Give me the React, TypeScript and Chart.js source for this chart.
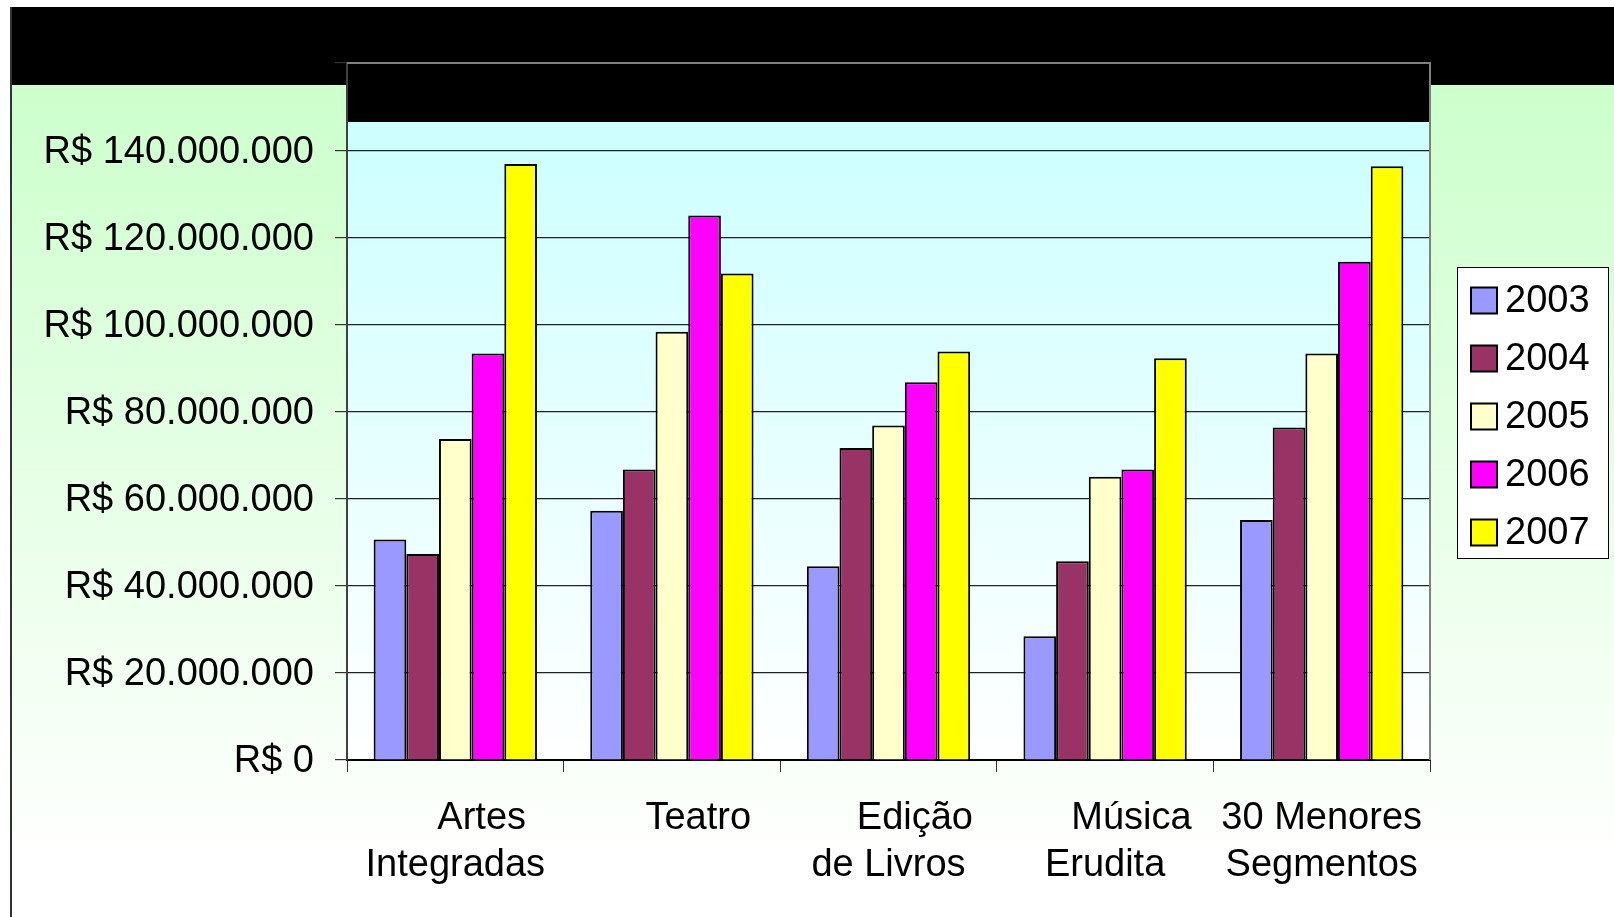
import React, { useEffect, useRef } from 'react';
import { Chart, registerables } from 'chart.js';

Chart.register(...registerables);

const categories: string[][] = [
  ['Artes', 'Integradas'],
  ['Teatro'],
  ['Edição', 'de Livros'],
  ['Música', 'Erudita'],
  ['30 Menores', 'Segmentos'],
];
const years = ['2003', '2004', '2005', '2006', '2007'];
const values2003 = [50600000, 57200000, 44500000, 28400000, 55100000];
const values2004 = [47300000, 66700000, 71600000, 45600000, 76300000];
const values2005 = [73700000, 98300000, 76800000, 65000000, 93300000];
const values2006 = [93300000, 125000000, 86700000, 66700000, 114400000];
const values2007 = [136800000, 111700000, 93800000, 92200000, 136300000];
const seriesColors = ['#9999ff', '#993366', '#ffffcc', '#ff00ff', '#ffff00'];
const yMin = 0;
const yMax = 160000000;
const yStep = 20000000;

const W = 1614;
const H = 917;
const FONT = "'Liberation Sans', Arial, sans-serif";

function formatBRL(v: number): string {
  const s = String(Math.round(v)).replace(/\B(?=(\d{3})+(?!\d))/g, '.');
  return 'R$ ' + s;
}

const decorPlugin = {
  id: 'decor',
  beforeDraw(chart: any) {
    const { ctx, chartArea } = chart;
    const { left, right, top, bottom } = chartArea;
    ctx.save();
    ctx.fillStyle = '#ffffff';
    ctx.fillRect(0, 0, W, H);
    // outer header band
    ctx.fillStyle = '#000000';
    ctx.fillRect(10, 7, W - 10, 78);
    // outer green gradient
    const g = ctx.createLinearGradient(0, 85, 0, 860);
    g.addColorStop(0, '#ccffcc');
    g.addColorStop(1, '#ffffff');
    ctx.fillStyle = g;
    ctx.fillRect(12, 85, W - 12, H - 85);
    // left border
    ctx.fillStyle = '#333333';
    ctx.fillRect(10, 7, 2, H - 7);
    // plot area gradient
    const g2 = ctx.createLinearGradient(0, 122, 0, bottom);
    g2.addColorStop(0, '#ccffff');
    g2.addColorStop(1, '#ffffff');
    ctx.fillStyle = g2;
    ctx.fillRect(left, top, right - left, bottom - top);
    // plot header band
    ctx.fillStyle = '#000000';
    ctx.fillRect(left, top, right - left, 122 - top);
    ctx.restore();
  },
  afterDraw(chart: any) {
    const { ctx, chartArea } = chart;
    const { left, right, top, bottom } = chartArea;
    ctx.save();
    ctx.strokeStyle = '#808080';
    ctx.lineWidth = 2;
    ctx.beginPath();
    ctx.moveTo(left, top);
    ctx.lineTo(right, top);
    ctx.lineTo(right, bottom);
    ctx.stroke();
    // legend
    const lx = 1457, ly = 267, lw = 151, lh = 291;
    ctx.fillStyle = '#ffffff';
    ctx.fillRect(lx, ly, lw, lh);
    ctx.strokeStyle = '#000000';
    ctx.lineWidth = 1;
    ctx.strokeRect(lx + 0.5, ly + 0.5, lw, lh);
    ctx.font = `38px ${FONT}`;
    ctx.textBaseline = 'middle';
    ctx.textAlign = 'left';
    chart.data.datasets.forEach((ds: any, i: number) => {
      const cy = 300.5 + i * 58;
      ctx.fillStyle = ds.backgroundColor;
      ctx.fillRect(1471, cy - 13, 26, 26);
      ctx.strokeStyle = '#000000';
      ctx.lineWidth = 2;
      ctx.strokeRect(1471, cy - 13, 26, 26);
      ctx.fillStyle = '#000000';
      ctx.fillText(ds.label, 1505, cy + 1);
    });
    ctx.restore();
  },
};

export default function App() {
  const ref = useRef<HTMLCanvasElement | null>(null);
  useEffect(() => {
    if (!ref.current) return;
    const seriesValues = [values2003, values2004, values2005, values2006, values2007];
    const chart = new Chart(ref.current, {
      type: 'bar',
      data: {
        labels: categories,
        datasets: years.map((y, i) => ({
          label: y,
          data: seriesValues[i],
          backgroundColor: seriesColors[i],
          borderColor: '#000000',
          borderWidth: 2,
          categoryPercentage: 0.754,
          barPercentage: 1.0,
        })),
      },
      options: {
        responsive: false,
        animation: false,
        devicePixelRatio: 1,
        layout: { padding: { left: 0, top: 63, right: 184, bottom: 0 } },
        plugins: {
          legend: { display: false },
          title: { display: false },
          tooltip: { enabled: false },
        },
        scales: {
          x: {
            afterFit: (s: any) => { s.height = 157; },
            grid: {
              offset: true,
              drawOnChartArea: false,
              drawTicks: true,
              tickLength: 12,
              tickColor: '#333333',
              tickWidth: 1,
            },
            border: { display: true, color: '#000000', width: 2 },
            ticks: {
              color: '#000000',
              padding: 23,
              maxRotation: 0,
              autoSkip: false,
              font: { size: 38, family: FONT, lineHeight: 1.24 },
              callback: function (this: any, _v: any, idx: number) {
                const lines = categories[idx];
                if (idx < categories.length - 1) {
                  return lines.map((l, k) => (k === 0 ? '     ' + l : l));
                }
                return lines;
              },
            },
          },
          y: {
            min: yMin,
            max: yMax,
            afterFit: (s: any) => { s.width = 347; },
            grid: {
              color: '#222222',
              lineWidth: 1.2,
              tickLength: 12,
              tickColor: '#333333',
            },
            border: { display: true, color: '#404040', width: 2 },
            ticks: {
              stepSize: yStep,
              color: '#000000',
              padding: 21,
              labelOffset: 2,
              font: { size: 38, family: FONT },
              callback: (v: any) => formatBRL(Number(v)),
            },
          },
        },
      },
      plugins: [decorPlugin],
    });
    return () => chart.destroy();
  }, []);
  return (
    <div style={{ position: 'fixed', left: 0, top: 0, width: W, height: H }}>
      <canvas ref={ref} width={W} height={H} style={{ display: 'block', width: W, height: H }} />
    </div>
  );
}
